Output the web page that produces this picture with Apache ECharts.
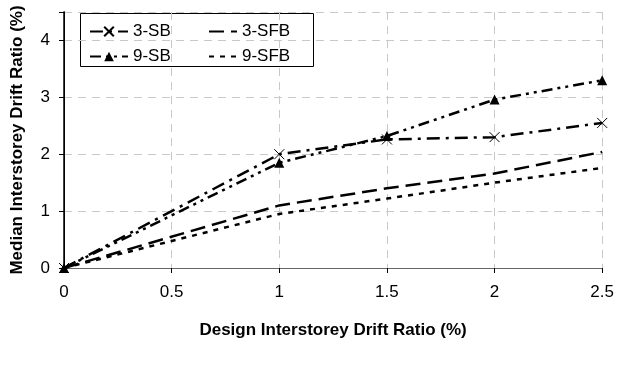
<!DOCTYPE html>
<html>
<head>
<meta charset="utf-8">
<script src="https://cdn.jsdelivr.net/npm/echarts@6/dist/echarts.min.js"></script>
<style>
  html, body { margin: 0; padding: 0; background: #fff; }
  #main { width: 617px; height: 369px; }
</style>
</head>
<body>
<div id="main"></div>
<script>
// design drift ratio (%) - x values
const designDrift = [0, 1, 1.5, 2, 2.5];

// median interstorey drift ratio (%)
const sb3 = [0, 2.0, 2.26, 2.3, 2.55];
const sfb3 = [0, 1.1, 1.4, 1.66, 2.04];
const sb9 = [0, 1.85, 2.32, 2.96, 3.3];
const sfb9 = [0, 0.95, 1.22, 1.5, 1.76];

const xTicks = [0, 0.5, 1, 1.5, 2, 2.5];
const yTicks = [0, 1, 2, 3, 4];

const pairs = (ys) => designDrift.map((x, i) => [x, ys[i]]);

const chartDom = document.getElementById("main");
const myChart = echarts.init(chartDom);

const font = "Liberation Sans, Arial, sans-serif";
const crossSymbol = "path://M0,0 L10,10 M10,0 L0,10";

const option = {
  animation: false,
  textStyle: { fontFamily: font },
  grid: { left: 64, right: 14, top: 12, bottom: 101 },
  xAxis: [
    {
      type: "value",
      min: 0,
      max: 2.5,
      interval: 0.5,
      name: "Design Interstorey Drift Ratio (%)",
      nameLocation: "middle",
      nameGap: 54,
      nameTextStyle: { fontSize: 17, fontWeight: "bold", color: "#000", fontFamily: font },
      axisLine: { lineStyle: { color: "#000", width: 1 } },
      axisTick: { show: true, length: 5, lineStyle: { color: "#000" } },
      axisLabel: {
        fontSize: 17,
        color: "#000",
        margin: 16,
        formatter: (v) => (xTicks.includes(v) ? String(v) : ""),
      },
      splitLine: { show: true, lineStyle: { color: "#c8c8c8", type: [8, 6] } },
    },
    {
      type: "value",
      position: "top",
      min: 0,
      max: 2.5,
      axisLine: { show: true, lineStyle: { color: "#666" } },
      axisTick: { show: false },
      axisLabel: { show: false },
      splitLine: { show: false },
    },
  ],
  yAxis: [
    {
      type: "value",
      min: 0,
      max: 4.5,
      interval: 1,
      name: "Median Interstorey Drift Ratio (%)",
      nameLocation: "middle",
      nameGap: 38,
      nameTextStyle: { fontSize: 17, fontWeight: "bold", color: "#000", fontFamily: font },
      axisLine: { show: true, lineStyle: { color: "#000", width: 1 } },
      axisTick: { show: true, length: 5, inside: false, lineStyle: { color: "#000" } },
      axisLabel: {
        fontSize: 17,
        color: "#000",
        margin: 14,
        formatter: (v) => (yTicks.includes(v) ? String(v) : ""),
      },
      splitLine: { show: true, lineStyle: { color: "#c8c8c8", type: [8, 6] } },
    },
    {
      type: "value",
      position: "right",
      min: 0,
      max: 4.5,
      axisLine: { show: true, lineStyle: { color: "#000", width: 1.5 } },
      axisTick: { show: false },
      axisLabel: { show: false },
      splitLine: { show: false },
    },
  ],
  legend: [
    {
      left: 84,
      top: 18,
      orient: "vertical",
      itemGap: 8,
      itemWidth: 38,
      itemHeight: 12,
      textStyle: { fontSize: 17, color: "#000", fontFamily: font },
      data: ["3-SB", "9-SB"],
    },
    {
      left: 203,
      top: 18,
      orient: "vertical",
      itemGap: 8,
      itemWidth: 28,
      itemHeight: 12,
      textStyle: { fontSize: 17, color: "#000", fontFamily: font },
      data: ["3-SFB", "9-SFB"],
    },
  ],
  graphic: [
    {
      type: "rect",
      left: 80,
      top: 13,
      z: 0,
      shape: { width: 233, height: 53 },
      style: { fill: "#fff", stroke: "#000", lineWidth: 1 },
    },
  ],
  series: [
    {
      name: "3-SB",
      type: "line",
      data: pairs(sb3),
      symbol: crossSymbol,
      symbolSize: 10,
      itemStyle: { color: "none", borderColor: "#000", borderWidth: 1 },
      lineStyle: { color: "#000", width: 2.5, type: [13, 6, 3, 6] },
      z: 3,
    },
    {
      name: "9-SB",
      type: "line",
      data: pairs(sb9),
      symbol: "triangle",
      symbolSize: 10,
      itemStyle: { color: "#000" },
      lineStyle: { color: "#000", width: 2.5, type: [11, 5, 3, 5, 3, 5] },
      z: 3,
    },
    {
      name: "3-SFB",
      type: "line",
      data: pairs(sfb3),
      symbol: "circle",
      showSymbol: false,
      itemStyle: { color: "rgba(0,0,0,0)" },
      lineStyle: { color: "#000", width: 2.5, type: [15, 7] },
      z: 3,
    },
    {
      name: "9-SFB",
      type: "line",
      data: pairs(sfb9),
      symbol: "circle",
      showSymbol: false,
      itemStyle: { color: "rgba(0,0,0,0)" },
      lineStyle: { color: "#000", width: 2.5, type: [5, 6] },
      z: 3,
    },
  ],
};

myChart.setOption(option);
</script>
</body>
</html>
